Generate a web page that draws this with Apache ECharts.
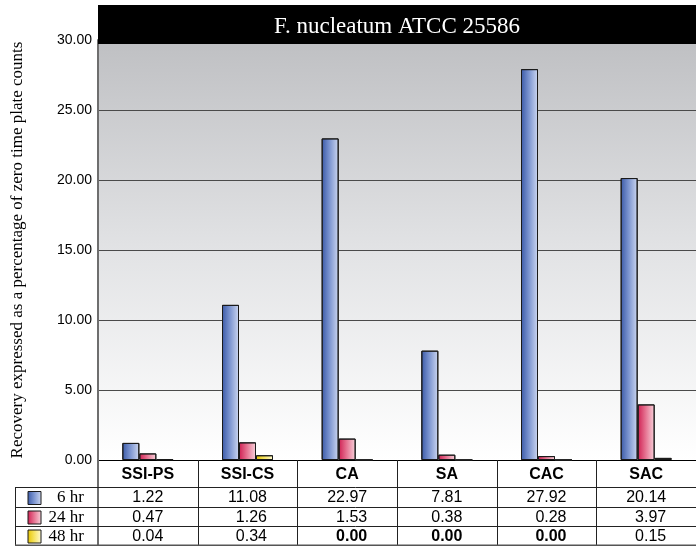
<!DOCTYPE html>
<html>
<head>
<meta charset="utf-8">
<script src="https://cdn.jsdelivr.net/npm/echarts@6/dist/echarts.min.js"></script>
<style>
html,body{margin:0;padding:0;background:#fff;}
#chart{width:696px;height:546px;}
</style>
</head>
<body>
<div id="chart"></div>
<script>
const chartTitle = 'F. nucleatum ATCC 25586';
const yAxisTitle = 'Recovery expressed as a percentage of zero time plate counts';
const categories = ['SSI-PS', 'SSI-CS', 'CA', 'SA', 'CAC', 'SAC'];
const seriesNames = ['6 hr', '24 hr', '48 hr'];
const hr6 = [1.22, 11.08, 22.97, 7.81, 27.92, 20.14];
const hr24 = [0.47, 1.26, 1.53, 0.38, 0.28, 3.97];
const hr48 = [0.04, 0.34, 0.00, 0.00, 0.00, 0.15];
const yMin = 0, yMax = 30, yStep = 5;

const seriesData = [hr6, hr24, hr48];
const grads = [
  [[0, '#3a59a6'], [0.45, '#7a93cf'], [1, '#cdd7f0']],
  [[0, '#cf1f52'], [0.45, '#e5708f'], [1, '#f8d3dc']],
  [[0, '#e6c400'], [0.45, '#f5e25a'], [1, '#fffbd6']]
];
function grad(i) {
  return new echarts.graphic.LinearGradient(0, 0, 1, 0, grads[i].map(s => ({offset: s[0], color: s[1]})));
}

const GL = 98, GW = 601, GT = 40, GB = 460;
const chart = echarts.init(document.getElementById('chart'), null, {renderer: 'canvas'});

const option = {
  animation: false,
  grid: {
    left: GL, width: GW, top: GT, height: GB - GT,
    show: true, borderWidth: 0,
    backgroundColor: new echarts.graphic.LinearGradient(0, 0, 0, 1, [
      {offset: 0, color: '#bfc0c3'}, {offset: 0.5, color: '#e2e3e5'}, {offset: 1, color: '#ffffff'}
    ])
  },
  xAxis: {
    type: 'category',
    data: categories,
    axisLine: {show: true, lineStyle: {color: '#000', width: 1}},
    axisTick: {show: false},
    axisLabel: {
      interval: 0, margin: 7, color: '#000',
      fontFamily: 'Liberation Sans, Arial, sans-serif', fontSize: 16, fontWeight: 'bold'
    }
  },
  yAxis: {
    type: 'value', min: yMin, max: yMax, interval: yStep,
    name: yAxisTitle, nameLocation: 'middle', nameGap: 72,
    nameTextStyle: {fontFamily: 'Liberation Serif, Times New Roman, serif', fontSize: 17, color: '#000'},
    axisLine: {show: true, lineStyle: {color: '#6e6e6e', width: 2}},
    axisTick: {show: false},
    axisLabel: {
      margin: 6, color: '#000',
      fontFamily: 'Liberation Sans, Arial, sans-serif', fontSize: 14,
      formatter: v => v.toFixed(2)
    },
    splitLine: {show: true, lineStyle: {color: '#4a4a4a', width: 1}}
  },
  series: seriesData.map((d, i) => ({
    name: seriesNames[i],
    type: 'bar',
    data: d,
    barWidth: 17,
    barGap: '0%',
    itemStyle: {color: grad(i), borderColor: '#1a1a1a', borderWidth: 1}
  }))
};
chart.setOption(option);

// Build title box and data table from the arrays, using the axis scale for column positions
function buildGraphics() {
  const centers = categories.map((c, i) => chart.convertToPixel({xAxisIndex: 0}, i));
  const band = centers[1] - centers[0];
  const left = centers[0] - band / 2;
  const right = centers[centers.length - 1] + band / 2;
  const rowTops = [487, 507, 526];
  const rowH = [20, 19, 19];
  const tableBottom = 545;
  const els = [];

  // title bar
  els.push({type: 'rect', shape: {x: left, y: 5, width: right - left, height: 39}, style: {fill: '#000'}, z: 10});
  els.push({type: 'text', x: (left + right) / 2, y: 27, z: 11,
    style: {text: chartTitle, fill: '#fff', font: '23px "Liberation Serif", "Times New Roman", serif', align: 'center', verticalAlign: 'middle'}});

  const lineStyle = {stroke: '#222', lineWidth: 1};
  for (let i = 1; i <= categories.length; i++) {
    const x = Math.round(left + band * i) + 0.5;
    els.push({type: 'line', shape: {x1: x, y1: GB, x2: x, y2: tableBottom}, style: lineStyle, z: 5});
  }
  els.push({type: 'line', shape: {x1: left, y1: GB, x2: left, y2: tableBottom}, style: {stroke: '#6e6e6e', lineWidth: 2}, z: 5});
  els.push({type: 'line', shape: {x1: 15.5, y1: rowTops[0], x2: 15.5, y2: tableBottom}, style: lineStyle, z: 5});
  rowTops.concat([tableBottom]).forEach((y, k) => {
    els.push({type: 'line', shape: {x1: 15, y1: y + 0.5, x2: right, y2: y + 0.5},
      style: k === 3 ? {stroke: '#555', lineWidth: 2} : lineStyle, z: 5});
  });

  const ctx = document.createElement('canvas').getContext('2d');
  const numFont = '16px "Liberation Sans", Arial, sans-serif';
  const boldFont = 'bold 16px "Liberation Sans", Arial, sans-serif';

  seriesData.forEach((d, r) => {
    const cy = rowTops[r] + rowH[r] / 2 + 1;
    els.push({type: 'rect', shape: {x: 28, y: cy - 6.5, width: 13, height: 13},
      style: {fill: grad(r), stroke: '#1a1a1a', lineWidth: 1}, z: 6});
    els.push({type: 'text', x: 84, y: cy, z: 6,
      style: {text: seriesNames[r], fill: '#000', font: '17px "Liberation Serif", "Times New Roman", serif', align: 'right', verticalAlign: 'middle'}});
  });

  categories.forEach((c, i) => {
    const strs = seriesData.map(d => d[i].toFixed(2));
    ctx.font = numFont;
    const maxW = Math.max(...strs.map(s => ctx.measureText(s).width));
    const rx = centers[i] + maxW / 2;
    seriesData.forEach((d, r) => {
      const cy = rowTops[r] + rowH[r] / 2 + 1;
      els.push({type: 'text', x: rx, y: cy, z: 6,
        style: {text: strs[r], fill: '#000', font: d[i] === 0 ? boldFont : numFont, align: 'right', verticalAlign: 'middle'}});
    });
  });

  chart.setOption({graphic: {elements: els}});
}
buildGraphics();
</script>
</body>
</html>
